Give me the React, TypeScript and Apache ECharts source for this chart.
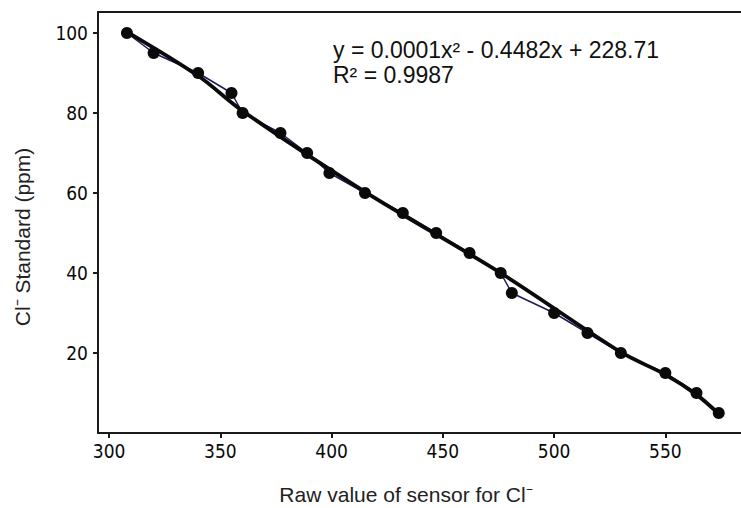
import React, { useEffect, useRef } from "react";
import * as echarts from "echarts";

const rawValues = [308, 320, 340, 355, 360, 377, 389, 399, 415, 432, 447, 462, 476, 481, 500, 515, 530, 550, 564, 574];
const standardPpm = [100, 95, 90, 85, 80, 75, 70, 65, 60, 55, 50, 45, 40, 35, 30, 25, 20, 15, 10, 5];
const trendX = [308, 340, 360, 415, 476, 530, 550, 564, 574];
const trendY = [100.3, 89.3, 80.5, 60.3, 40, 20.2, 14.6, 9.6, 4.8];
const equationLine1 = "y = 0.0001x² - 0.4482x + 228.71";
const equationLine2 = "R² = 0.9987";
const xTitle = "Raw value of sensor for Cl⁻";
const yTitle = "Cl⁻ Standard (ppm)";

export default function App() {
  const ref = useRef<HTMLDivElement>(null);
  useEffect(() => {
    if (!ref.current) return;
    const chart = echarts.init(ref.current, null, { renderer: "svg" });
    const data = rawValues.map((x, i) => [x, standardPpm[i]]);
    const trend = trendX.map((x, i) => [x, trendY[i]]);
    const labelStyle = { color: "#0a0a0a", fontFamily: "'DejaVu Sans Condensed', 'DejaVu Sans'", fontSize: 19 };
    const axisLine = { lineStyle: { color: "#1a1a1a", width: 2 } };
    chart.setOption({
      animation: false,
      backgroundColor: "#fff",
      grid: { left: 98, top: 12, bottom: 75, right: 0, show: false },
      xAxis: [
        {
          type: "value",
          min: 295,
          max: 584,
          splitNumber: 6,
          splitLine: { show: false },
          axisLine,
          axisTick: { show: true, length: 5, lineStyle: { color: "#1a1a1a", width: 2 } },
          axisLabel: { ...labelStyle, margin: 8, showMinLabel: false, showMaxLabel: false },
        },
        {
          type: "value",
          position: "top",
          min: 295,
          max: 584,
          splitLine: { show: false },
          axisLine,
          axisTick: { show: false },
          axisLabel: { show: false },
        },
      ],
      yAxis: {
        type: "value",
        min: 0,
        max: 105.25,
        interval: 20,
        splitLine: { show: false },
        axisLine,
        axisTick: { show: true, length: 5, lineStyle: { color: "#1a1a1a", width: 2 } },
        axisLabel: { ...labelStyle, margin: 10, showMinLabel: false, showMaxLabel: false },
      },
      series: [
        {
          type: "line",
          data,
          symbol: "none",
          lineStyle: { color: "#1c1c5c", width: 1.5 },
          z: 2,
        },
        {
          type: "line",
          data: trend,
          symbol: "none",
          smooth: 0.3,
          lineStyle: { color: "#0a0a0a", width: 3.8 },
          z: 3,
        },
        {
          type: "scatter",
          data,
          symbol: "circle",
          symbolSize: 12,
          itemStyle: { color: "#0a0a0a", opacity: 1 },
          z: 4,
        },
      ],
      graphic: [
        {
          type: "text",
          x: 333,
          y: 50,
          style: { text: equationLine1, fontFamily: "Liberation Sans", fontSize: 23, fill: "#111", verticalAlign: "middle", textAlign: "left" },
        },
        {
          type: "text",
          x: 333,
          y: 75,
          style: { text: equationLine2, fontFamily: "Liberation Sans", fontSize: 23, fill: "#111", verticalAlign: "middle", textAlign: "left" },
        },
        {
          type: "text",
          x: 406,
          y: 494,
          style: { text: xTitle, fontFamily: "Liberation Sans", fontSize: 21, fill: "#222", verticalAlign: "middle", textAlign: "center" },
        },
        {
          type: "text",
          x: 22,
          y: 237,
          rotation: Math.PI / 2,
          style: { text: yTitle, fontFamily: "Liberation Sans", fontSize: 21, fill: "#222", verticalAlign: "middle", textAlign: "center" },
        },
      ],
    });
    return () => chart.dispose();
  }, []);
  return <div ref={ref} style={{ position: "fixed", left: 0, top: 0, width: 741, height: 508 }} />;
}
